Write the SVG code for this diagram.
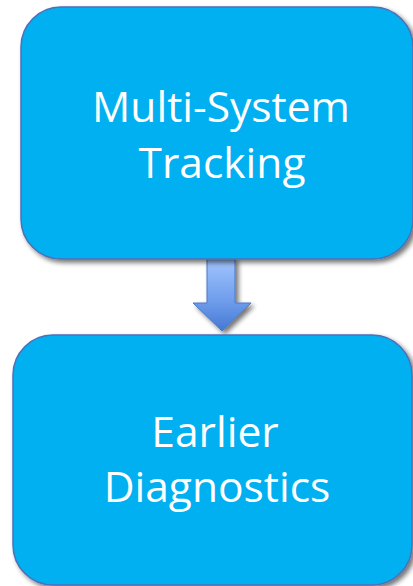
<svg xmlns="http://www.w3.org/2000/svg" width="413" height="586" viewBox="0 0 413 586">
  <defs>
    <filter id="shadow" x="-10%" y="-10%" width="120%" height="120%">
      <feGaussianBlur in="SourceAlpha" stdDeviation="2.5"/>
      <feOffset dx="3" dy="3" result="b"/>
      <feComponentTransfer><feFuncA type="linear" slope="0.55"/></feComponentTransfer>
      <feMerge><feMergeNode/><feMergeNode in="SourceGraphic"/></feMerge>
    </filter>
    <linearGradient id="arrowGrad" x1="0" y1="0" x2="0" y2="1">
      <stop offset="0" stop-color="#A3C6FF"/>
      <stop offset="0.6" stop-color="#6D9CEB"/>
      <stop offset="1" stop-color="#4678D2"/>
    </linearGradient>
  </defs>
  <style>
    .box { fill: #00B0F0; stroke: #4F6FB5; stroke-width: 1.5; filter: url(#shadow); }
    .label { fill: #FFFFFF; font-family: "Open Sans", "Noto Sans", sans-serif; font-size: 42.5px; text-anchor: middle; }
    .arrow { fill: url(#arrowGrad); stroke: #4A78C8; stroke-width: 1; filter: url(#shadow); }
  </style>
  <rect width="413" height="586" fill="#FFFFFF"/>
  <g id="connectors">
    <path class="arrow" d="M207,258 L235,258 L235,303 L251,303 L222,331 L193,303 L207,303 Z"/>
  </g>
  <g id="node-multi-system-tracking">
    <rect class="box" x="21" y="7" width="392" height="252" rx="40" ry="40"/>
    <text class="label" x="221" y="122">Multi-System</text>
    <text class="label" x="222" y="178">Tracking</text>
  </g>
  <g id="node-earlier-diagnostics">
    <rect class="box" x="13" y="335" width="399" height="250" rx="40" ry="40"/>
    <text class="label" x="215" y="447">Earlier</text>
    <text class="label" x="217" y="502">Diagnostics</text>
  </g>
</svg>
